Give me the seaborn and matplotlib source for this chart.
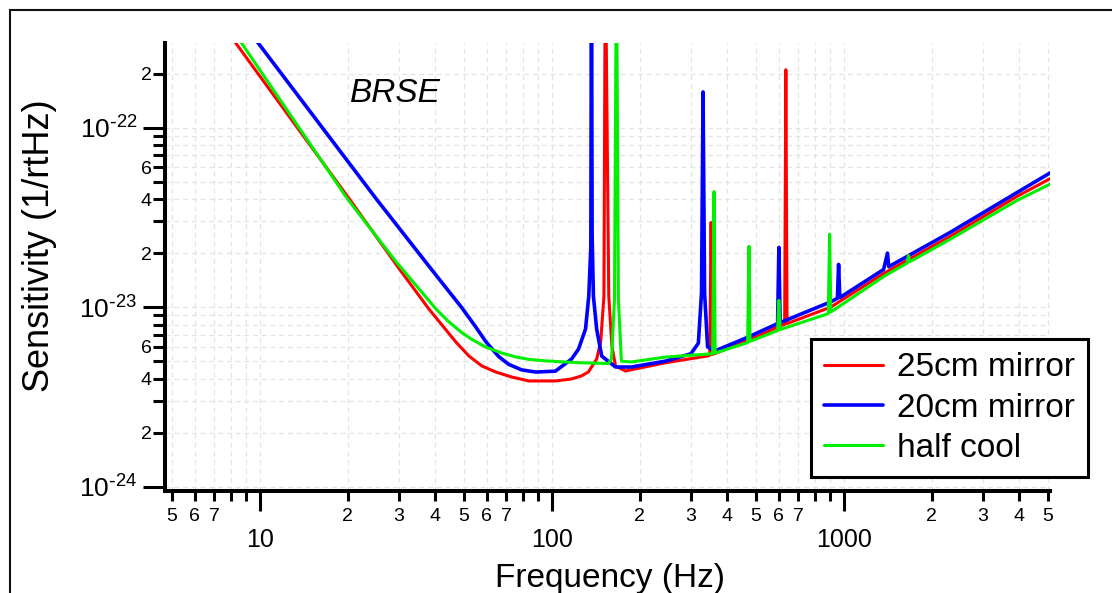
import numpy as np
import pandas as pd
import seaborn as sns
import matplotlib.pyplot as plt
from matplotlib.ticker import FixedLocator, FixedFormatter
from matplotlib.patches import Rectangle

# values (Hz, 1/rtHz); peaks that run off the top are given 1e-21
red_freq = [8.1, 13.7, 20.3, 30.1, 38.0, 47.0, 52.1, 57.7, 64.4, 73.0, 83.5, 103,
            117, 126.5, 133.5, 142.6, 147.2, 151, 152.7, 156.9, 160.8, 165.5, 178.9,
            245, 343.6, 348, 351.6, 355, 470, 610, 628, 634, 640, 903, 1380, 2318,
            3925, 5100]
red_sens = [3.11e-22, 9.6e-23, 4.0e-23, 1.63e-23, 9.75e-24, 6.39e-24, 5.34e-24,
            4.7e-24, 4.35e-24, 4.08e-24, 3.88e-24, 3.88e-24, 3.98e-24, 4.14e-24, 4.35e-24,
            5.14e-24, 6.39e-24, 1.15e-23, 1e-21, 1.15e-23, 6.07e-24, 4.7e-24, 4.41e-24,
            4.9e-24, 5.35e-24, 5.4e-24, 2.96e-23, 5.45e-24, 6.5e-24, 7.9e-24, 8.0e-24,
            2.1e-22, 8.1e-24, 1.0e-23, 1.55e-23, 2.48e-23, 4.14e-23, 5.2e-23]

blue_freq = [9.6, 25.1, 38.0, 44.0, 49.3, 55.0, 59.6, 65.9, 71.3, 79.0, 88.2, 103, 117,
             123.6, 130.6, 134.0, 136.2, 136.9, 137.6, 139.0, 142.6, 148.4, 165.5, 187.5,
             245, 300, 318, 326, 330, 334, 342, 362, 470, 594, 600, 606, 903, 952, 961,
             970, 1370, 1413, 1427, 2318, 3925, 5100]
blue_sens = [3.15e-22, 4.0e-23, 1.69e-23, 1.25e-23, 9.9e-24, 7.74e-24, 6.4e-24, 5.3e-24,
             4.8e-24, 4.47e-24, 4.35e-24, 4.4e-24, 5.14e-24, 5.84e-24, 7.55e-24, 1.15e-23,
             2.18e-23, 1e-21, 2.5e-23, 1.15e-23, 7.55e-24, 5.34e-24, 4.64e-24, 4.64e-24,
             5.0e-24, 5.5e-24, 6.3e-24, 1.2e-23, 1.58e-22, 1.2e-23, 6.0e-24, 5.7e-24,
             6.8e-24, 8.1e-24, 2.15e-23, 8.2e-24, 1.07e-23, 1.12e-23, 1.73e-23, 1.13e-23,
             1.62e-23, 2.0e-23, 1.68e-23, 2.61e-23, 4.35e-23, 5.6e-23]

green_freq = [8.5, 20.0, 29.4, 35.2, 40.2, 44.5, 49.3, 53.3, 59.6, 67.5, 75.4, 83.5, 95.4,
              108, 126.5, 156.5, 160.3, 164.1, 166.7, 169.3, 173.3, 187.5, 244.8, 343.6,
              356, 359.7, 363, 469, 474, 478, 594, 600, 606, 886, 895, 904, 1380, 1650,
              1667, 1684, 2318, 3925, 5100]
green_sens = [3.1e-22, 4.0e-23, 1.78e-23, 1.26e-23, 9.75e-24, 8.27e-24, 7.2e-24, 6.61e-24,
              5.98e-24, 5.55e-24, 5.28e-24, 5.12e-24, 5.02e-24, 4.96e-24, 4.9e-24, 4.85e-24,
              5.14e-24, 1.1e-23, 1e-21, 1.1e-23, 5.0e-24, 4.95e-24, 5.27e-24, 5.48e-24,
              5.5e-24, 4.4e-23, 5.55e-24, 6.35e-24, 2.18e-23, 6.45e-24, 7.4e-24, 1.09e-23,
              7.5e-24, 9.2e-24, 2.55e-23, 9.4e-24, 1.49e-23, 1.76e-23, 1.94e-23, 1.79e-23,
              2.39e-23, 3.93e-23, 4.85e-23]

series = [("25cm mirror", red_freq, red_sens, "#ff0000", 2.2),
          ("20cm mirror", blue_freq, blue_sens, "#0000ff", 2.6),
          ("half cool", green_freq, green_sens, "#00f000", 2.2)]

sns.set_theme(style="ticks")
plt.rcParams['font.family'] = ['Liberation Sans', 'DejaVu Sans']
plt.rcParams['text.color'] = 'black'
plt.rcParams['axes.labelcolor'] = 'black'

fig = plt.figure(figsize=(11.12, 5.93), dpi=100)
ax = fig.add_axes([165 / 1112, 102 / 593, 885 / 1112, 448 / 593])

for name, f, s, col, lw in series:
    df = pd.DataFrame({"freq": f, "sens": s})
    sns.lineplot(data=df, x="freq", y="sens", ax=ax, color=col, linewidth=lw,
                 label=name, estimator=None, sort=False)

ax.set_xscale("log")
ax.set_yscale("log")
ax.set_xlim(4.74, 5090)
ax.set_ylim(0.946e-24, 2.96e-22)

# ticks
x_major = [10, 100, 1000]
x_minor = [m * d for d in [1, 10, 100, 1000] for m in range(2, 10) if 4.74 < m * d < 5090]
x_minor_lab = [str(m) if m <= 7 else "" for d in [1, 10, 100, 1000]
               for m in range(2, 10) if 4.74 < m * d < 5090]
ax.xaxis.set_major_locator(FixedLocator(x_major))
ax.xaxis.set_major_formatter(FixedFormatter(["10", "100", "1000"]))
ax.xaxis.set_minor_locator(FixedLocator(x_minor))
ax.xaxis.set_minor_formatter(FixedFormatter(x_minor_lab))

y_major = [1e-24, 1e-23, 1e-22]
y_minor = [m * d for d in [1e-24, 1e-23, 1e-22] for m in range(2, 10) if m * d < 2.96e-22]
y_minor_lab = [str(m) if m in (2, 4, 6) else "" for d in [1e-24, 1e-23, 1e-22]
               for m in range(2, 10) if m * d < 2.96e-22]
ax.yaxis.set_major_locator(FixedLocator(y_major))
ax.yaxis.set_major_formatter(FixedFormatter([r"$\mathregular{10^{\text{-}24}}$",
                                             r"$\mathregular{10^{\text{-}23}}$",
                                             r"$\mathregular{10^{\text{-}22}}$"]))
ax.yaxis.set_minor_locator(FixedLocator(y_minor))
ax.yaxis.set_minor_formatter(FixedFormatter(y_minor_lab))

ax.tick_params(which="both", direction="out", color="black", labelcolor="black",
               width=2.2, bottom=True, left=True)
ax.tick_params(axis="x", which="major", length=14.4, labelsize=18, pad=12)
ax.tick_params(axis="x", which="minor", length=7.2, labelsize=14, pad=5)
ax.tick_params(axis="y", which="major", length=15.8, labelsize=19, pad=4)
ax.tick_params(axis="y", which="minor", length=8.6, labelsize=14, pad=1)

ax.grid(True, which="both", linestyle=(0, (4, 3)), color="#e4e4e4", linewidth=0.9)
ax.set_axisbelow(True)

for sp in ["top", "right"]:
    ax.spines[sp].set_visible(False)
for sp in ["left", "bottom"]:
    ax.spines[sp].set_linewidth(2.9)
    ax.spines[sp].set_color("black")

ax.set_xlabel("Frequency (Hz)", fontsize=24)
ax.set_ylabel("Sensitivity (1/rtHz)", fontsize=26)
ax.xaxis.set_label_coords(0.503, -0.16)
ax.yaxis.set_label_coords(-0.122, 0.547)

ax.text(0.209, 0.888, "BRSE", transform=ax.transAxes, fontsize=24,
        fontstyle="italic", va="center", ha="left", color="black")

leg = ax.legend(loc="upper left", bbox_to_anchor=(811 / 1112, 1 - 339 / 593),
                bbox_transform=fig.transFigure, fontsize=24, frameon=True,
                fancybox=False, framealpha=1, borderaxespad=0, borderpad=0.4,
                labelspacing=0.28, handlelength=1.75, handletextpad=0.42)
leg.get_frame().set_edgecolor("black")
leg.get_frame().set_linewidth(2.2)

# thin frame around the whole picture
fig.patches.append(Rectangle((10 / 1112, -0.1), 1.2, 1.1 - 10 / 593,
                             transform=fig.transFigure, fill=False,
                             edgecolor="#111111", linewidth=1.5))

fig.savefig("out.png", dpi=100)
